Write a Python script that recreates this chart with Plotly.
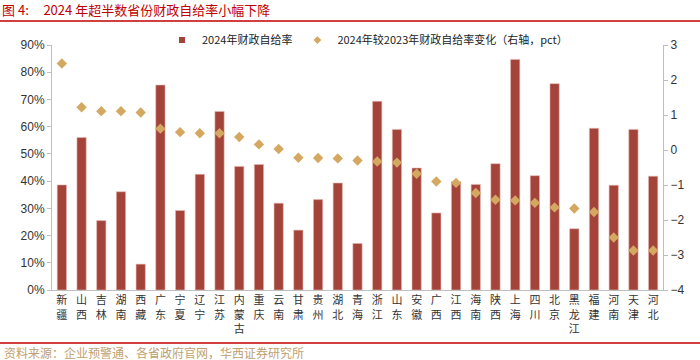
import plotly.graph_objects as go

provinces = ["新疆", "山西", "吉林", "湖南", "西藏", "广东", "宁夏", "辽宁", "江苏", "内蒙古",
             "重庆", "云南", "甘肃", "贵州", "湖北", "青海", "浙江", "山东", "安徽", "广西",
             "江西", "海南", "陕西", "上海", "四川", "北京", "黑龙江", "福建", "河南", "天津", "河北"]
ratio_2024 = [38.6, 56.0, 25.5, 36.1, 9.5, 75.3, 29.2, 42.5, 65.6, 45.4,
              46.1, 31.9, 22.0, 33.2, 39.3, 17.1, 69.3, 59.0, 44.8, 28.3,
              39.8, 38.8, 46.4, 84.7, 42.0, 75.8, 22.5, 59.4, 38.5, 59.0, 41.8]
change_pct = [2.47, 1.22, 1.11, 1.11, 1.07, 0.61, 0.51, 0.48, 0.48, 0.37,
              0.16, 0.03, -0.22, -0.23, -0.24, -0.30, -0.33, -0.36, -0.68, -0.90,
              -0.94, -1.23, -1.42, -1.44, -1.51, -1.64, -1.67, -1.77, -2.50, -2.87, -2.87]

tick_text = ["<br>".join(list(p)) for p in provinces]
BAR = "#a3433a"
DIA = "#d4a860"
CJK = "Noto Sans CJK SC"
NUM = "Liberation Sans, Arial, sans-serif"
NB = "\u00a0"

fig = go.Figure()
fig.add_trace(go.Bar(x=provinces, y=[v / 100 for v in ratio_2024], marker=dict(color=BAR, line=dict(color="#e6b8b0", width=0.6)),
                     name="2024年财政自给率", showlegend=False, yaxis="y"))
fig.add_trace(go.Scatter(x=provinces, y=change_pct, mode="markers", marker=dict(symbol="diamond", size=8, color=DIA),
                         name="2024年较2023年财政自给率变化（右轴，pct）", showlegend=False, yaxis="y2"))
# legend proxies
fig.add_trace(go.Scatter(x=[None], y=[None], mode="markers", marker=dict(symbol="square", size=6, color=BAR),
                         name="2024年财政自给率", yaxis="y"))
fig.add_trace(go.Scatter(x=[None], y=[None], mode="markers", marker=dict(symbol="diamond", size=6, color=DIA),
                         name="2024年较2023年财政自给率变化（右轴，pct）", yaxis="y2"))

fig.update_layout(
    width=700, height=360,
    margin=dict(l=52, r=37, t=45, b=70),
    paper_bgcolor="white", plot_bgcolor="white",
    bargap=0.53,
    font=dict(family=CJK, size=11, color="#222"),
    xaxis=dict(tickmode="array", tickvals=provinces, ticktext=tick_text, showline=True, linecolor="#bfbfbf",
               linewidth=1, ticks="", tickfont=dict(family=CJK, size=11, color="#333"), range=[-0.5, 30.5]),
    yaxis=dict(range=[0, 0.9], dtick=0.1, tickformat=".0%", showgrid=False, showline=True, linecolor="#bfbfbf",
               ticks="outside", ticklen=4, tickcolor="#bfbfbf", tickfont=dict(family=NUM, size=12, color="#333"), zeroline=False),
    yaxis2=dict(range=[-4, 3], dtick=1, overlaying="y", side="right", showgrid=False, showline=True, linecolor="#bfbfbf",
                ticks="outside", ticklen=4, tickcolor="#bfbfbf", tickfont=dict(family=NUM, size=12, color="#333"), zeroline=False),
    legend=dict(orientation="h", x=0.18, y=1.02, xanchor="left", yanchor="middle", bgcolor="rgba(0,0,0,0)",
                font=dict(family=CJK, size=11, color="#222"), itemwidth=30),
    title=dict(text="图 4:" + NB * 5 + "2024 年超半数省份财政自给率小幅下降", x=0.003, xanchor="left", y=0.972, yanchor="middle",
               font=dict(family=CJK, size=13, color="#c00000")),
)
w = 611.0
h = 245.0
fig.add_shape(type="line", xref="paper", yref="paper", x0=-52 / w, x1=648 / w, y0=(290 - 21) / h, y1=(290 - 21) / h,
              line=dict(color="#c00000", width=1.5))
fig.add_shape(type="line", xref="paper", yref="paper", x0=-52 / w, x1=648 / w, y0=(290 - 343) / h, y1=(290 - 343) / h,
              line=dict(color="#c00000", width=1.5))
fig.add_annotation(text="资料来源：企业预警通、各省政府官网，华西证券研究所", xref="paper", yref="paper",
                   x=-50 / w, y=(290 - 352) / h, xanchor="left", yanchor="middle", showarrow=False,
                   font=dict(family=CJK, size=12, color="#c0a070"))
fig.write_html("out.html", config={"displayModeBar": False}, post_script="document.body.style.margin='0';")
